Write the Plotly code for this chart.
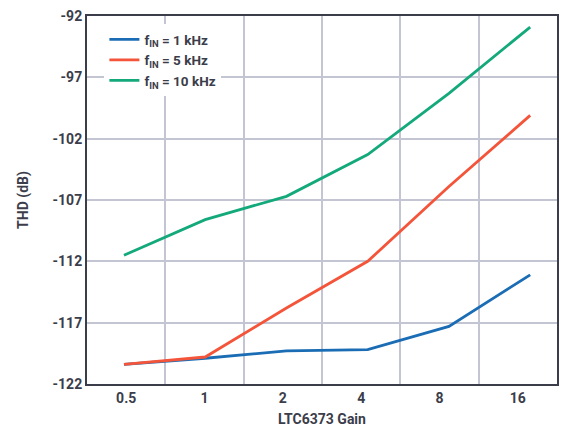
import plotly.graph_objects as go

gains = ['0.5', '1', '2', '4', '8', '16']
thd_1k = [-120.4, -119.9, -119.3, -119.2, -117.3, -113.1]
thd_5k = [-120.4, -119.8, -115.8, -112.0, -105.9, -100.1]
thd_10k = [-111.5, -108.6, -106.7, -103.3, -98.3, -92.9]
y_ticks = [-122, -117, -112, -107, -102, -97, -92]

pos = list(range(len(gains)))
font = "Roboto"
dark = '#3b3d4a'
grid = '#c3c5d3'

fig = go.Figure()
# empty trace so the category axis (labels + grid) gets drawn
fig.add_trace(go.Scatter(x=[], y=[], showlegend=False, hoverinfo='skip'))
for name, vals, col in [
    ('f<sub>IN</sub> = 1 kHz', thd_1k, '#1a6db4'),
    ('f<sub>IN</sub> = 5 kHz', thd_5k, '#f4553a'),
    ('f<sub>IN</sub> = 10 kHz', thd_10k, '#13a97b'),
]:
    fig.add_trace(go.Scatter(x=pos, y=vals, mode='lines', name=name, xaxis='x2',
                             line=dict(color=col, width=2.8)))

# page body has an 8px margin, so the figure is a bit smaller than the window
fig.update_layout(
    width=579, height=425,
    margin=dict(l=79, r=30, t=8, b=49, autoexpand=False),
    paper_bgcolor='white', plot_bgcolor='white',
    font=dict(family=font, color=dark, size=14),
    showlegend=True,
    legend=dict(x=0.037, y=0.978, xanchor='left', yanchor='top',
                bgcolor='white', font=dict(size=13.5, family=font, weight='bold'),
                itemwidth=30, tracegroupgap=0),
    xaxis=dict(
        range=[-0.5, 5.5],
        tickvals=pos, ticktext=gains,
        showgrid=False, zeroline=False, automargin=False,
        minor=dict(tickvals=[p + 0.5 for p in pos[:-1]], showgrid=True,
                   gridcolor=grid, gridwidth=1.5, ticklen=0),
        showline=True, linecolor=dark, linewidth=2, mirror=True,
        ticks='', tickfont=dict(size=14, weight='bold'),
        title=dict(text='LTC6373 Gain', font=dict(size=14, weight='bold'), standoff=9),
    ),
    xaxis2=dict(overlaying='x', range=[-0.455, 5.33], visible=False),
    yaxis=dict(
        range=[-122, -92], automargin=False, ticklabeloverflow='allow',
        tickvals=y_ticks, ticktext=[str(v) for v in y_ticks],
        showgrid=True, gridcolor=grid, gridwidth=1.5, zeroline=False,
        showline=True, linecolor=dark, linewidth=2, mirror=True,
        ticks='', tickfont=dict(size=14, weight='bold'),
        title=dict(text='THD (dB)', font=dict(size=14, weight='bold'), standoff=21),
    ),
)

fig.write_html("out.html")
